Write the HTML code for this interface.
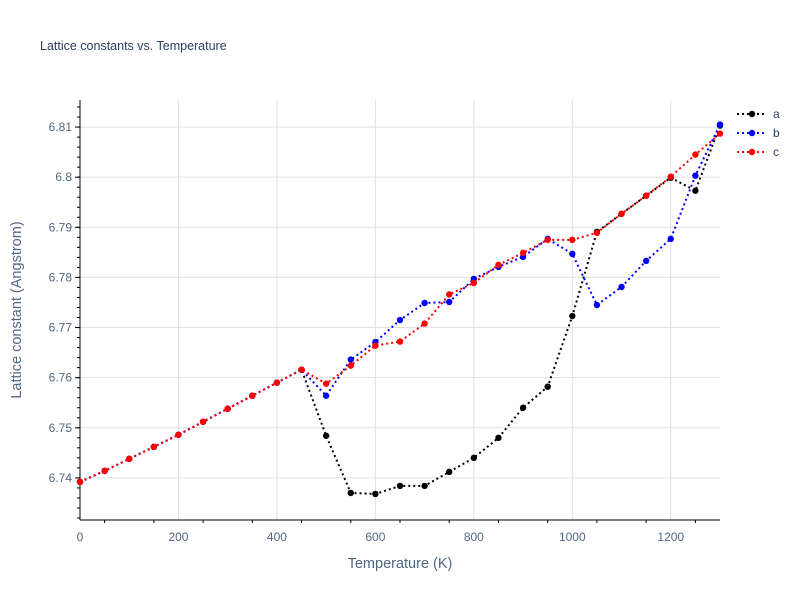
<!DOCTYPE html>
<html><head><meta charset="utf-8"><style>
body{margin:0;background:#fff}
svg text{font-family:"Liberation Sans",sans-serif;fill:#2a3f5f}
svg text.tick{fill:#506784}
</style></head><body>
<svg id="chart" width="800" height="600" xmlns="http://www.w3.org/2000/svg">
<text x="40" y="50" font-size="12.5">Lattice constants vs. Temperature</text>
<g id="grid"></g><g id="axes"></g><g id="series"></g><g id="legend"></g>
<text x="400" y="568" font-size="14.5" text-anchor="middle" fill="#506784" style="fill:#506784">Temperature (K)</text>
<text transform="translate(21,310) rotate(-90)" font-size="14.5" text-anchor="middle" style="fill:#506784">Lattice constant (Angstrom)</text>
</svg>
<script>
const temps=[0,50,100,150,200,250,300,350,400,450,500,550,600,650,700,750,800,850,900,950,1000,1050,1100,1150,1200,1250,1300];
const seriesA=[6.7392,6.7414,6.7438,6.7462,6.7486,6.7512,6.7538,6.7564,6.759,6.7616,6.7484,6.737,6.7368,6.7384,6.7384,6.7412,6.744,6.748,6.754,6.7582,6.7723,6.7891,6.7927,6.7963,6.7999,6.7973,6.8103];
const seriesB=[6.7392,6.7414,6.7438,6.7462,6.7486,6.7512,6.7538,6.7564,6.759,6.7616,6.7564,6.7636,6.7671,6.7715,6.7749,6.7751,6.7797,6.7821,6.7841,6.7877,6.7847,6.7745,6.7781,6.7833,6.7877,6.8003,6.8105];
const seriesC=[6.7392,6.7414,6.7438,6.7462,6.7486,6.7512,6.7538,6.7564,6.759,6.7616,6.7588,6.7624,6.7664,6.7672,6.7708,6.7766,6.7789,6.7825,6.7849,6.7875,6.7875,6.7889,6.7927,6.7963,6.8001,6.8045,6.8087];
const xTicks=[0,200,400,600,800,1000,1200];
const yTicks=[6.74,6.75,6.76,6.77,6.78,6.79,6.8,6.81];
const yTickLabels=["6.74","6.75","6.76","6.77","6.78","6.79","6.8","6.81"];
const seriesNames=["a","b","c"];
const seriesColors=["#000000","#0000ff","#ff0000"];
const L=80,R=720,T=100,B=520,xMin=0,xMax=1300,yMin=6.7316,yMax=6.8154;
const X=v=>L+(v-xMin)/(xMax-xMin)*(R-L);
const Y=v=>B-(v-yMin)/(yMax-yMin)*(B-T);
const NS="http://www.w3.org/2000/svg";
function mk(tag,attrs,parent){const e=document.createElementNS(NS,tag);for(const k in attrs)e.setAttribute(k,attrs[k]);parent.appendChild(e);return e;}
const grid=document.getElementById('grid'),axes=document.getElementById('axes');
xTicks.forEach(t=>{
 const g=mk('line',{x1:X(t),x2:X(t),y1:T,y2:B,stroke:'#e0e0e0','stroke-width':1},grid);
 
 
 const tx=mk('text',{x:X(t),y:B+21,'font-size':12,'text-anchor':'middle','class':'tick'},axes);tx.textContent=t;
 
 
});
for(let t=50;t<xMax;t+=100){mk('line',{x1:X(t),x2:X(t),y1:B,y2:B+3,stroke:'#000'},axes);}
yTicks.forEach((t,i)=>{
 const g=mk('line',{x1:L,x2:R,y1:Y(t),y2:Y(t),stroke:'#e0e0e0','stroke-width':1},grid);
 
 
 mk('line',{x1:L-5,x2:L,y1:Y(t),y2:Y(t),stroke:'#000'},axes);
 const tx=mk('text',{x:L-8,y:Y(t)+4,'font-size':12,'text-anchor':'end','class':'tick'},axes);tx.textContent=yTickLabels[i];
 
 
});
for(let t=6.732;t<yMax;t+=0.002){mk('line',{x1:L-3,x2:L,y1:Y(t),y2:Y(t),stroke:'#000'},axes);}
mk('line',{x1:L,x2:L,y1:T,y2:B,stroke:'#000'},axes);
mk('line',{x1:L,x2:R,y1:B,y2:B,stroke:'#000'},axes);
const sg=document.getElementById('series'),lg=document.getElementById('legend');
[seriesA,seriesB,seriesC].forEach((s,i)=>{
 const c=seriesColors[i];
 const p=mk('polyline',{points:s.map((v,j)=>X(temps[j])+','+Y(v)).join(' '),fill:'none',stroke:c,'stroke-width':2,'stroke-dasharray':'2,3'},sg);
 
 
 s.forEach((v,j)=>{const m=mk('circle',{cx:X(temps[j]),cy:Y(v),r:3.2,fill:c},sg);
  
  });
 const ly=114+i*19;
 const le=mk('g',{},lg);
 
 
 mk('line',{x1:737,x2:767,y1:ly,y2:ly,stroke:c,'stroke-width':2,'stroke-dasharray':'2,3'},le);
 mk('circle',{cx:752,cy:ly,r:3.2,fill:c},le);
 const t=mk('text',{x:773,y:ly+4,'font-size':12},le);t.textContent=seriesNames[i];
});
</script>
</body></html>
